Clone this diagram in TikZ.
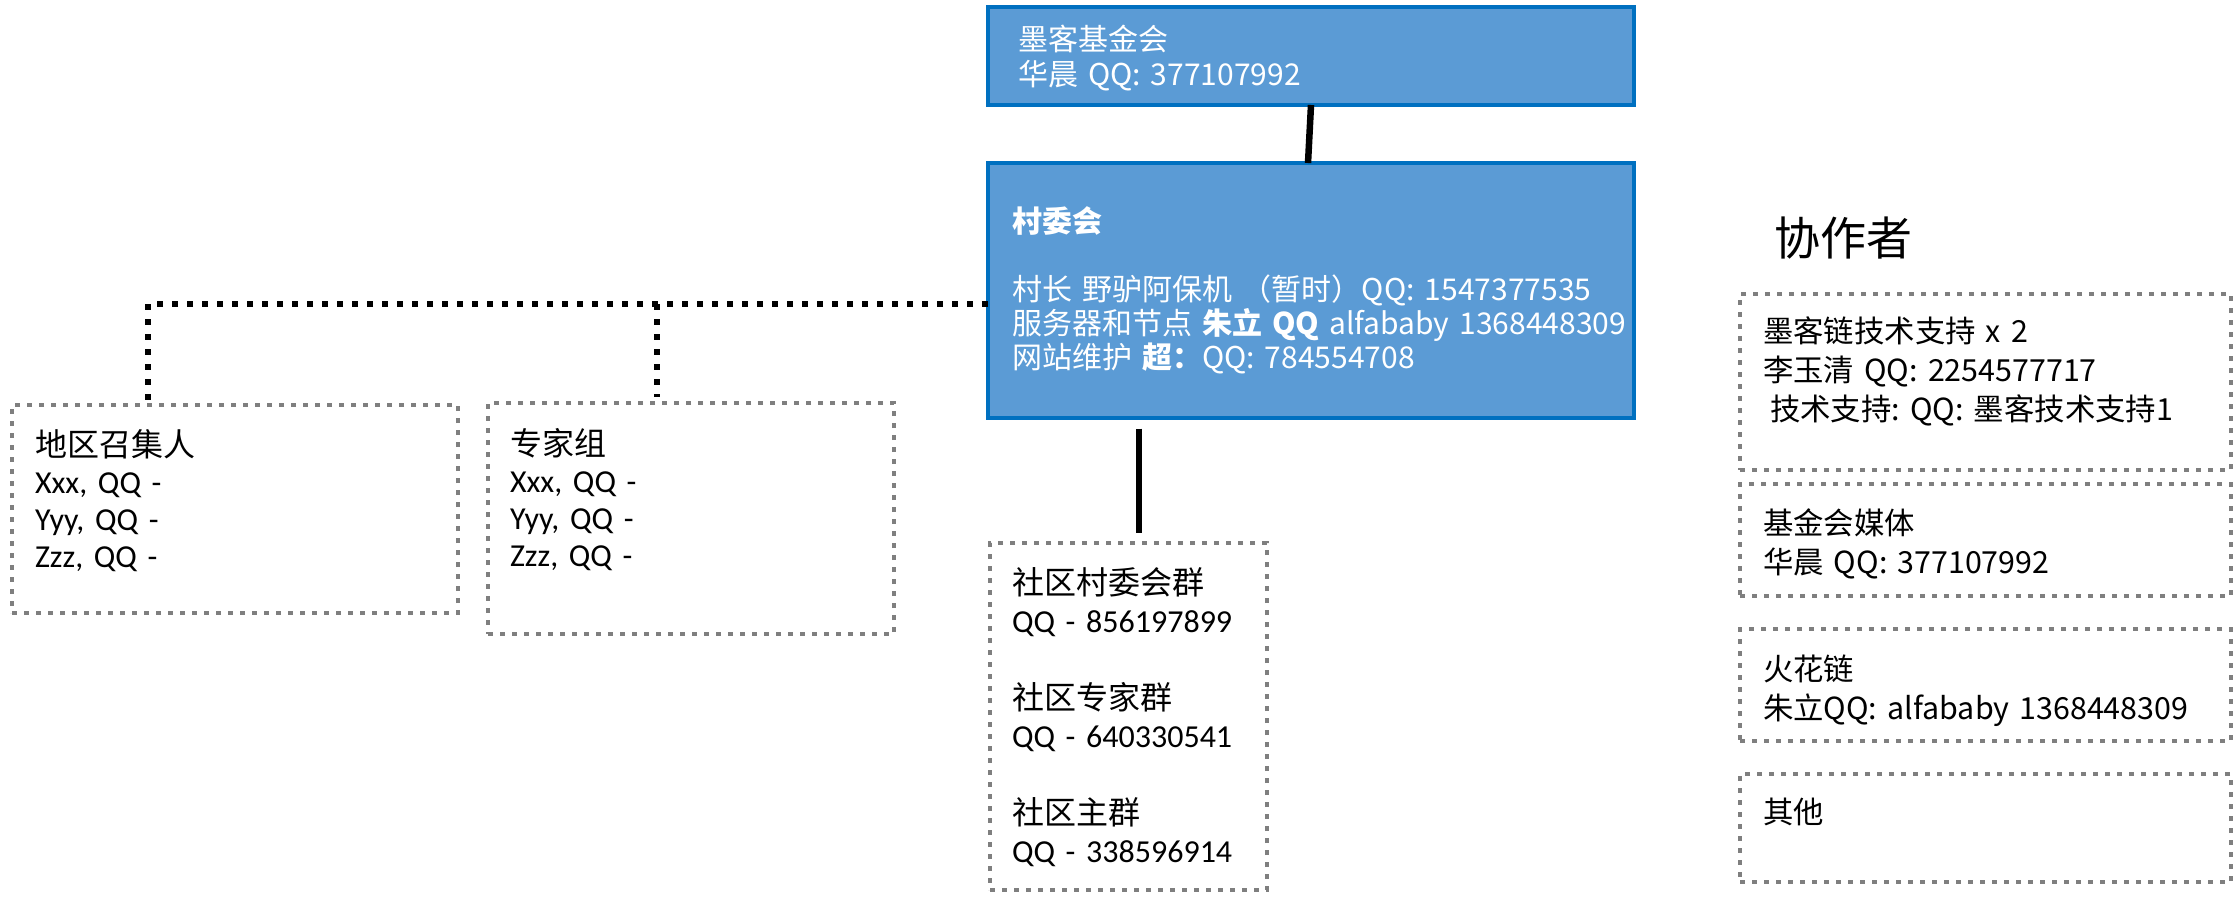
\documentclass[tikz,border=0pt]{standalone}
\usepackage{fontspec}
\setmainfont{Noto Sans CJK SC}
\newfontfamily\calibri{Carlito}
\usetikzlibrary{positioning}
\definecolor{boxblue}{HTML}{5B9BD5}
\definecolor{edgeblue}{HTML}{0070C0}
\definecolor{boxgray}{HTML}{7F7F7F}
\hyphenpenalty=10000
\exhyphenpenalty=10000

\begin{document}
\begin{tikzpicture}[x=0.5pt, y=-0.5pt,
						bluebox/.style={draw=edgeblue, fill=boxblue, line width=2.25pt, text=white, anchor=north west, align=left, inner ysep=0pt, outer sep=0pt, font=\fontsize{15}{17}\selectfont},
						dotbox/.style={draw=boxgray, line width=2.25pt, dash pattern=on 2.5pt off 3.5pt, anchor=north west, align=left, inner ysep=0pt, outer sep=0pt},
						helpbox/.style={dotbox, inner xsep=11.5pt, text width=222.5pt, font=\fontsize{15.2}{19.5}\selectfont},
						solidlink/.style={line width=3.25pt},
						dotlink/.style={line width=3pt, dash pattern=on 3pt off 4.5pt}]
						\useasboundingbox (0,0) rectangle (2233,901);
						\node[bluebox, inner xsep=15pt, text width=293pt, text height=21.5pt, text depth=27.5pt, font=\fontsize{15}{17.5}\selectfont] (fund) at (988,7)
						{墨客基金会\\华晨~QQ:~377107992};
						\node[bluebox, below=29pt of fund, inner xsep=12pt, text width=299pt, text height=34.5pt, text depth=93pt] (main)
						{\textbf{村委会}\\[17pt]
						村长~野驴阿保机~（暂时）QQ:~1547377535\\
						服务器和节点~\textbf{朱立~QQ}~alfababy~1368448309\\
						网站维护~\textbf{超：}QQ:~784554708};
						\node[dotbox, inner xsep=11.5pt, text width=200pt, text height=25.5pt, text depth=78.5pt, font=\fontsize{16}{18.5}\selectfont] (lead) at (12,405)
						{地区召集人\\{\calibri Xxx, QQ -}\\{\calibri Yyy, QQ -}\\{\calibri Zzz, QQ -}};
						\node[dotbox, inner xsep=11pt, text width=181pt, text height=26pt, text depth=89.5pt, font=\fontsize{16}{18.5}\selectfont] (experts) at (488,403)
						{专家组\\{\calibri Xxx, QQ -}\\{\calibri Yyy, QQ -}\\{\calibri Zzz, QQ -}};
						\node[dotbox, below=62.5pt of main.south west, anchor=north west, xshift=1pt, inner xsep=11pt, text width=116.5pt, text height=25.5pt, text depth=148pt, font=\fontsize{16}{19.2}\selectfont] (groups)
						{社区村委会群\\{\calibri QQ~-~856197899}\\[19.2pt]
						社区专家群\\{\calibri QQ~-~640330541}\\[19.2pt]
						社区主群\\{\calibri QQ~-~338596914}};
						\node[font=\fontsize{23}{23}\selectfont] (helpers) at (1843,238) {协作者};
						\node[helpbox, text height=24pt, text depth=64pt] (tech) at (1740,294)
						{墨客链技术支持~x~2\\李玉清~QQ:~2254577717\\\hspace*{3.5pt}技术支持:~QQ:~墨客技术支持1};
						\node[helpbox, below=7pt of tech, text height=25pt, text depth=31pt] (media)
						{基金会媒体\\华晨~QQ:~377107992};
						\node[helpbox, below=16.5pt of media, text height=25.5pt, text depth=30.5pt] (spark)
						{火花链\\朱立QQ:~alfababy~1368448309};
						\node[helpbox, below=16.5pt of spark, text height=24.5pt, text depth=29.5pt] (other)
						{其他};
						\coordinate (turnA) at (148,304);
						\coordinate (turnB) at (657,304);
						\coordinate (drop) at (1139,0);
						\draw[solidlink] (fund.south) -- ([xshift=-1.5pt]main.north);
						\draw[solidlink, shorten <=5.25pt, shorten >=5pt] (main.south -| drop) -- (groups.north -| drop);
						\draw[dotlink] (main.west |- turnB) -- (turnA) -- (lead.north -| turnA);
						\draw[dotlink, shorten >=3pt] (turnB) -- (experts.north -| turnB);
					\end{tikzpicture}
\end{document}
